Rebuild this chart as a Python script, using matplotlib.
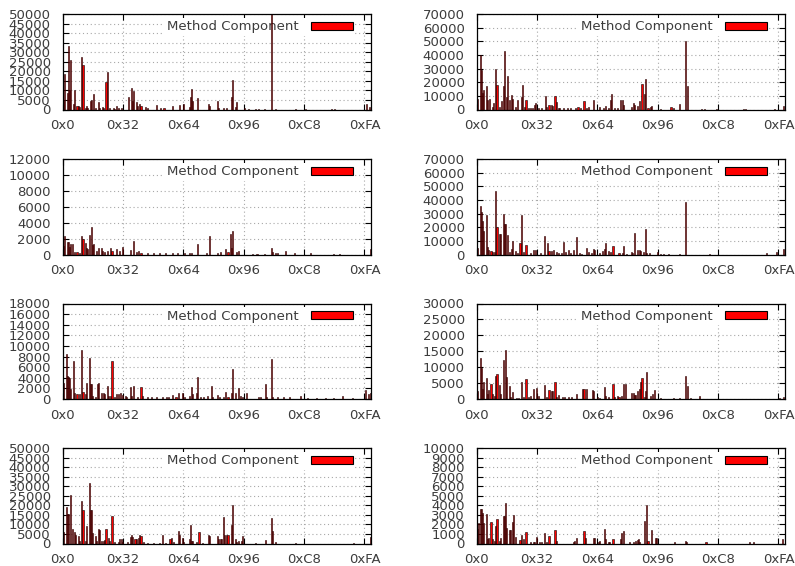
import matplotlib
matplotlib.use("Agg")
import matplotlib.pyplot as plt
from matplotlib.patches import Patch

plt.rcParams['font.family'] = ['DejaVu Sans']

# ---------------- data (byte value -> count) ----------------
p1_bytes = [0, 1, 2, 4, 5, 6, 7, 9, 10, 12, 13, 14, 16, 17, 19, 20, 21, 23, 24, 26, 27, 30, 31, 33, 34,
            36, 37, 39, 42, 43, 45, 46, 49, 55, 57, 58, 59, 61, 62, 64, 65, 69, 70, 78, 81, 84, 91, 97,
            100, 105, 106, 107, 108, 112, 121, 122, 128, 129, 133, 136, 140, 141, 143, 144, 151, 154,
            160, 162, 167, 173, 176, 193, 201, 223, 225, 252, 254]
p1_counts = [45000, 4400, 18400, 8600, 33000, 10300, 26000, 3000, 10000, 2000, 2000, 1200, 27500, 23500,
             1000, 2000, 800, 4700, 5000, 8300, 1000, 3800, 1000, 1200, 800, 14400, 19500, 700, 600, 500,
             1800, 600, 1000, 6800, 11400, 4400, 9500, 3900, 2000, 3000, 1900, 1200, 1000, 2400, 800,
             1000, 2000, 2500, 3000, 1500, 6800, 10900, 4700, 6000, 3000, 2000, 4200, 1000, 800, 900,
             6500, 15600, 1500, 3800, 700, 500, 400, 300, 300, 50000, 300, 300, 300, 400, 300, 3000, 1200]

p2_bytes = [0, 1, 3, 4, 5, 6, 8, 9, 11, 13, 14, 16, 17, 19, 21, 22, 23, 25, 26, 27, 29, 30, 32, 34, 37,
            38, 40, 41, 43, 45, 46, 48, 49, 51, 54, 57, 58, 60, 62, 63, 65, 66, 68, 69, 72, 75, 78, 82,
            84, 86, 89, 91, 93, 97, 102, 105, 107, 109, 111, 112, 114, 117, 119, 121, 122, 128, 130,
            131, 133, 135, 137, 139, 140, 142, 144, 145, 152, 161, 163, 168, 173, 175, 186, 189, 199,
            221, 223, 247, 254]
p2_counts = [62600, 7600, 39800, 28700, 12000, 14000, 17000, 6600, 7600, 1500, 5000, 30000, 17700, 1500,
             6000, 17000, 43000, 9000, 24300, 6600, 10500, 8000, 1500, 6600, 9000, 17700, 1500, 6600,
             1200, 1000, 1000, 3400, 4600, 1200, 1200, 9800, 1500, 3400, 3400, 2800, 9600, 5400, 1000,
             1000, 800, 800, 800, 1200, 1500, 1200, 5900, 800, 1500, 6600, 1500, 800, 2200, 1000, 6600,
             11500, 1000, 1200, 6600, 7100, 3500, 1500, 4700, 3400, 2500, 6000, 18900, 11000, 22100,
             1200, 1500, 2500, 700, 1500, 1000, 3700, 50300, 17000, 500, 500, 400, 400, 400, 300, 2200]

p3_bytes = [0, 1, 2, 4, 5, 6, 7, 8, 10, 12, 14, 16, 17, 19, 20, 21, 22, 24, 25, 26, 28, 30, 32, 33, 35,
            37, 40, 41, 45, 47, 50, 56, 59, 61, 63, 65, 70, 75, 80, 85, 91, 95, 101, 105, 107, 112,
            119, 122, 128, 131, 135, 137, 139, 140, 141, 144, 146, 157, 161, 167, 173, 174, 176, 178,
            185, 192, 205, 224, 229, 255]
p3_counts = [10700, 1100, 2270, 1560, 1560, 900, 1260, 1350, 300, 300, 200, 2270, 2000, 1430, 800, 700,
             2480, 3400, 1200, 1300, 500, 840, 840, 500, 300, 420, 840, 400, 700, 420, 900, 600, 1730,
             300, 380, 150, 150, 150, 150, 150, 200, 150, 150, 200, 200, 1300, 150, 2270, 200, 300, 630,
             300, 2600, 800, 2950, 300, 460, 100, 100, 100, 800, 300, 250, 250, 380, 150, 150, 100, 100,
             630]

p4_bytes = [0, 1, 3, 4, 5, 6, 8, 9, 10, 12, 13, 15, 16, 17, 19, 20, 22, 23, 24, 26, 27, 29, 30, 32, 34,
            36, 37, 39, 41, 45, 47, 49, 53, 56, 59, 60, 62, 64, 66, 68, 70, 72, 74, 76, 78, 80, 83, 85,
            87, 91, 93, 95, 97, 98, 102, 104, 106, 107, 109, 111, 113, 118, 121, 122, 124, 128, 129,
            131, 133, 135, 136, 138, 140, 141, 143, 150, 152, 155, 159, 168, 173, 193, 240, 248, 254]
p4_counts = [63000, 5000, 35400, 31000, 24500, 17200, 28700, 5400, 3000, 2200, 1500, 1500, 46400, 20100,
             14700, 14700, 30000, 22100, 22100, 14500, 1500, 4200, 9600, 2200, 1200, 8400, 28700, 1500,
             7100, 800, 3400, 3400, 800, 13500, 8600, 2200, 2200, 3400, 1500, 800, 800, 9100, 1500, 3400,
             1000, 3000, 12800, 1200, 500, 4700, 1500, 1000, 4200, 3500, 800, 2200, 4200, 8400, 2200,
             1500, 6100, 800, 800, 5900, 500, 1700, 800, 16000, 3400, 3400, 2200, 1700, 18900, 1200,
             1000, 1500, 500, 400, 400, 400, 38600, 300, 1200, 1700, 4200]

p5_bytes = [0, 1, 3, 4, 5, 6, 7, 9, 10, 12, 14, 16, 17, 19, 20, 22, 23, 24, 25, 27, 29, 30, 32, 34, 35,
            37, 38, 40, 41, 43, 45, 46, 48, 50, 52, 53, 56, 57, 59, 62, 65, 66, 70, 74, 78, 83, 86, 88,
            91, 94, 96, 99, 101, 105, 107, 108, 111, 112, 114, 117, 120, 123, 124, 128, 130, 133, 135,
            137, 140, 141, 143, 146, 147, 149, 152, 162, 164, 168, 169, 173, 174, 178, 183, 188, 197,
            203, 210, 218, 224, 232, 240, 251, 253, 255]
p5_counts = [16400, 3000, 8400, 4300, 4100, 4000, 1800, 7200, 1200, 940, 940, 9200, 1400, 880, 3100, 7700,
             2900, 2900, 560, 400, 2900, 3100, 1200, 1060, 900, 2500, 560, 560, 7100, 300, 940, 1000, 1060,
             750, 560, 300, 2300, 560, 2500, 300, 2200, 560, 300, 300, 300, 300, 400, 300, 750, 400, 1060,
             1060, 400, 560, 2300, 940, 1060, 4100, 300, 300, 560, 2450, 300, 690, 400, 300, 1400, 300,
             1060, 5600, 1200, 2000, 560, 400, 1200, 300, 300, 2750, 300, 7500, 400, 300, 300, 300, 560,
             250, 250, 250, 250, 560, 250, 1700, 940, 1060]

p6_bytes = [0, 1, 3, 4, 5, 6, 8, 9, 10, 12, 13, 15, 16, 17, 19, 20, 22, 24, 25, 27, 28, 30, 33, 35, 37,
            39, 41, 43, 45, 47, 50, 51, 56, 58, 60, 62, 63, 65, 66, 68, 71, 73, 76, 79, 83, 88, 89, 91,
            96, 97, 100, 102, 106, 107, 109, 113, 114, 117, 118, 120, 122, 123, 128, 130, 131, 132,
            133, 135, 136, 137, 139, 140, 141, 144, 146, 147, 152, 163, 168, 173, 175, 177, 185, 251, 254]
p6_counts = [25000, 2500, 13000, 9800, 3100, 5400, 6600, 1700, 2800, 4700, 1600, 800, 7200, 7900, 4400,
             1600, 12200, 15400, 6800, 4200, 500, 2200, 400, 400, 5200, 700, 6300, 500, 1000, 3000, 3400,
             800, 4300, 500, 2800, 2600, 2600, 5400, 700, 1100, 700, 500, 500, 500, 1600, 3000, 3000,
             3000, 2800, 2600, 700, 200, 3900, 900, 500, 4600, 500, 940, 700, 940, 4700, 4700, 1800,
             1800, 1100, 1100, 2500, 3000, 5200, 6500, 700, 2600, 8400, 940, 1600, 2800, 200, 200, 200,
             7300, 4100, 200, 940, 200, 500]

p7_bytes = [0, 1, 3, 4, 5, 7, 8, 10, 11, 13, 14, 16, 17, 19, 20, 22, 23, 24, 25, 27, 28, 30, 31, 32, 34,
            35, 36, 38, 39, 41, 43, 46, 47, 49, 50, 54, 56, 57, 58, 60, 61, 63, 64, 65, 67, 70, 75, 80,
            83, 85, 89, 90, 92, 96, 97, 99, 100, 105, 106, 107, 108, 111, 113, 116, 121, 122, 128, 129,
            131, 132, 133, 134, 136, 137, 140, 141, 143, 144, 146, 148, 149, 160, 168, 173, 174, 176,
            193, 241, 255]
p7_counts = [16000, 5900, 19200, 15200, 15200, 25300, 7800, 5900, 4200, 3800, 1500, 22500, 17800, 1500,
             9200, 31700, 17800, 17800, 5600, 3800, 1500, 7700, 7300, 1500, 1500, 2000, 7800, 3000, 1500,
             14600, 700, 900, 2400, 2100, 1000, 1000, 3500, 4200, 3500, 2400, 2400, 3000, 4200, 3800,
             1000, 500, 500, 500, 4500, 500, 2400, 2800, 1000, 6400, 4200, 2900, 700, 2400, 9900, 1500,
             1200, 1000, 6100, 500, 4200, 3800, 3800, 2100, 2100, 2400, 13900, 4500, 4500, 4500, 9900,
             19900, 2100, 1000, 1500, 1500, 3800, 500, 1600, 13400, 6800, 1000, 500, 500, 3300]

p8_bytes = [0, 1, 2, 3, 4, 5, 6, 8, 9, 10, 12, 13, 15, 16, 17, 19, 20, 22, 23, 24, 25, 27, 28, 30, 31,
            32, 36, 37, 39, 41, 45, 47, 48, 50, 52, 54, 56, 58, 60, 65, 66, 80, 81, 83, 89, 90, 97, 98,
            101, 102, 106, 107, 109, 110, 113, 119, 120, 122, 127, 130, 132, 133, 134, 135, 139, 141,
            142, 145, 148, 149, 164, 173, 174, 190, 226, 229, 253]
p8_counts = [9300, 1570, 2160, 3660, 3620, 3240, 2160, 3140, 420, 560, 2260, 420, 300, 1800, 2600, 300,
             560, 2900, 2850, 4250, 1640, 1400, 1460, 2260, 3000, 700, 400, 840, 520, 1220, 150, 200, 200,
             700, 150, 200, 1120, 150, 770, 1400, 300, 150, 250, 600, 1360, 600, 600, 600, 200, 300, 1530,
             500, 200, 150, 490, 490, 1120, 1360, 150, 150, 300, 350, 420, 200, 2400, 4000, 300, 1400,
             600, 620, 150, 310, 200, 150, 150, 150, 420]

panels = [(p1_bytes, p1_counts), (p2_bytes, p2_counts), (p3_bytes, p3_counts), (p4_bytes, p4_counts),
          (p5_bytes, p5_counts), (p6_bytes, p6_counts), (p7_bytes, p7_counts), (p8_bytes, p8_counts)]
y_max = [50000, 70000, 12000, 70000, 18000, 30000, 50000, 10000]
y_step = [5000, 10000, 2000, 10000, 2000, 5000, 5000, 1000]
x_ticks = [0, 50, 100, 150, 200, 250]
x_tick_labels = ['0x0', '0x32', '0x64', '0x96', '0xC8', '0xFA']
legend_label = 'Method Component'

# ---------------- layout ----------------
W, H = 795, 566
fig = plt.figure(figsize=(W / 100, H / 100), dpi=100)
col_left = [62.5, 476.5]
col_width = 308
row_top = [14, 159, 303.5, 448]
row_height = 95.5

txt_col = '#3c3c3c'
for i, (bx, cnt) in enumerate(panels):
    r, c = divmod(i, 2)
    left = col_left[c] / W
    bottom = 1 - (row_top[r] + row_height) / H
    ax = fig.add_axes([left, bottom, col_width / W, row_height / H])
    ax.bar(bx, cnt, width=0.9, color='#ff0000', edgecolor='black', linewidth=0.4, zorder=2)
    ax.set_xlim(0, 255)
    ax.set_ylim(0, y_max[i])
    ax.set_xticks(x_ticks)
    ax.set_xticklabels(x_tick_labels)
    ax.set_yticks(list(range(0, y_max[i] + 1, y_step[i])))
    ax.set_axisbelow(True)
    ax.grid(True, linestyle=(0, (1, 2.5)), color='#a8a8a8', linewidth=0.8)
    ax.tick_params(direction='in', length=4, width=0.8, top=True, right=True,
                   labelsize=9.5, labelcolor=txt_col)
    ax.tick_params(axis='y', pad=8.5)
    ax.tick_params(axis='x', pad=7)
    for s in ax.spines.values():
        s.set_linewidth(0.9)
        s.set_color('black')
        s.set_zorder(3)
    handle = Patch(facecolor='#ff0000', edgecolor='black', linewidth=0.8, label=legend_label)
    leg = ax.legend(handles=[handle], loc='center right', bbox_to_anchor=(0.951, 0.866),
                    markerfirst=False, frameon=True, fancybox=False, framealpha=1,
                    facecolor='white', edgecolor='none', fontsize=9.5, handlelength=3.2,
                    handleheight=0.55, handletextpad=0.9, borderpad=0.2, borderaxespad=0)
    for t in leg.get_texts():
        t.set_color(txt_col)
    # key sits above the grid but beneath the bars, as in the reference
    leg.set_zorder(1.5)

fig.savefig('out.png', dpi=100)
